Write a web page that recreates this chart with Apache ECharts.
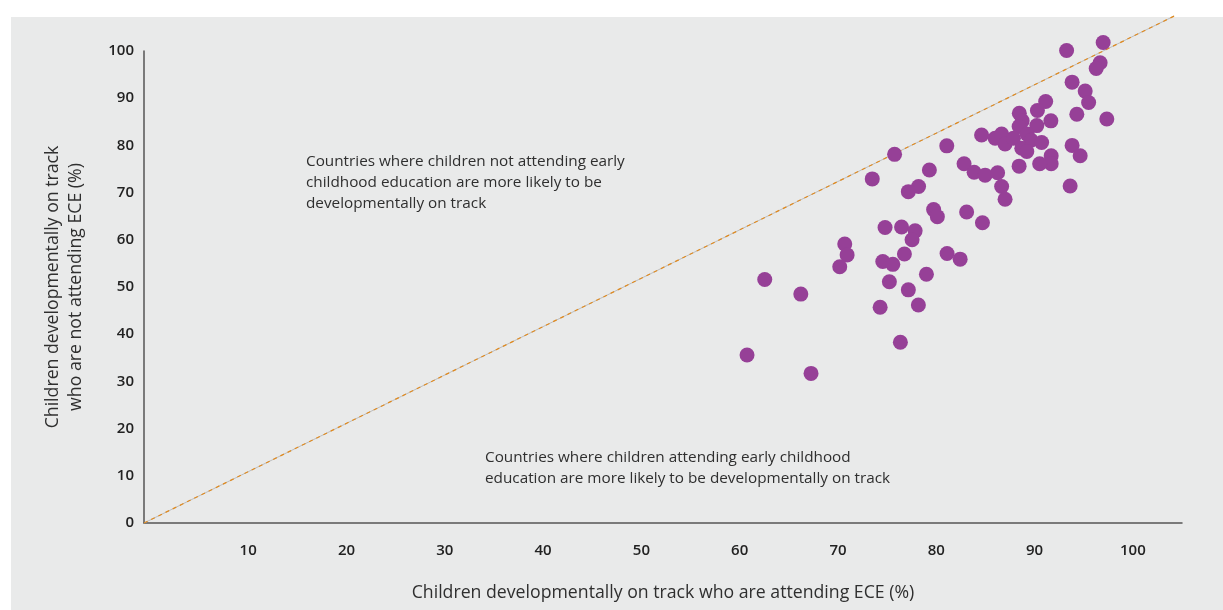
<!DOCTYPE html>
<html>
<head>
<meta charset="utf-8">
<script src="https://cdn.jsdelivr.net/npm/echarts@6/dist/echarts.min.js"></script>
<style>
html,body{margin:0;padding:0;background:#ffffff;}
#chart{width:1223px;height:610px;}
</style>
</head>
<body>
<div id="chart"></div>
<script>
// Children developmentally on track: attending ECE (x) vs not attending ECE (y), %
const attendingECE = [
  96.98, 93.26, 96.67, 96.27, 93.82, 95.15, 95.50, 91.13, 90.29, 88.45,
  91.66, 94.30, 97.35, 90.23, 88.74, 88.43, 84.61, 85.99, 86.65, 87.00,
  87.85, 89.24, 89.65, 88.70, 89.21, 90.72, 93.82, 94.64, 91.69, 91.69,
  90.52, 88.43, 81.07, 75.76, 73.49, 79.30, 82.83, 83.85, 84.97, 86.24,
  86.65, 87.00, 93.62, 78.20, 77.16, 79.73, 80.11, 83.09, 84.70, 74.79,
  76.47, 77.85, 77.54, 70.69, 70.93, 70.18, 76.76, 74.56, 75.58, 81.10,
  82.43, 79.00, 75.23, 77.16, 74.29, 78.18, 76.35, 62.55, 66.22, 60.75,
  67.26
];
const notAttendingECE = [
  101.8, 100.1, 97.5, 96.3, 93.4, 91.5, 89.1, 89.3, 87.4, 86.8,
  85.2, 86.6, 85.6, 84.2, 85.2, 84.0, 82.2, 81.5, 82.4, 80.3,
  81.5, 82.4, 81.1, 79.4, 78.7, 80.6, 80.0, 77.8, 77.8, 76.1,
  76.1, 75.6, 79.9, 78.1, 72.9, 74.8, 76.1, 74.3, 73.7, 74.2,
  71.3, 68.6, 71.4, 71.3, 70.2, 66.4, 64.9, 65.9, 63.6, 62.6,
  62.7, 61.9, 60.0, 59.1, 56.8, 54.3, 57.0, 55.4, 54.8, 57.1,
  55.9, 52.7, 51.1, 49.4, 45.7, 46.2, 38.3, 51.6, 48.5, 35.6,
  31.7
];
// reference line as drawn in the original figure
const parityLineX = [-0.6, 104.2];
const parityLineY = [0, 107.4];
const xTickValues = [10, 20, 30, 40, 50, 60, 70, 80, 90, 100];
const yTickValues = [0, 10, 20, 30, 40, 50, 60, 70, 80, 90, 100];

const xTitle = 'Children developmentally on track who are attending ECE (%)';
const yTitle = 'Children developmentally on track\nwho are not attending ECE (%)';
const noteAbove = 'Countries where children not attending early\nchildhood education are more likely to be\ndevelopmentally on track';
const noteBelow = 'Countries where children attending early childhood\neducation are more likely to be developmentally on track';

const points = attendingECE.map((x, i) => [x, notAttendingECE[i]]);
const linePts = parityLineX.map((x, i) => [x, parityLineY[i]]);

const FONT = '"Open Sans", "Noto Sans", sans-serif';
const chart = echarts.init(document.getElementById('chart'), null, {renderer: 'canvas'});
chart.setOption({
  animation: false,
  backgroundColor: '#ffffff',
  textStyle: {fontFamily: FONT},
  graphic: [
    {type: 'rect', z: -10, silent: true, shape: {x: 11, y: 17, width: 1212, height: 593},
     style: {fill: '#e9eaea'}},
    {type: 'text', left: 306, top: 151, z: 10, silent: true,
     style: {text: noteAbove, font: '15.3px ' + FONT, fill: '#2f2f2f', lineHeight: 21}},
    {type: 'text', left: 485, top: 447, z: 10, silent: true,
     style: {text: noteBelow, font: '15.3px ' + FONT, fill: '#2f2f2f', lineHeight: 21}}
  ],
  grid: {left: 144, right: 41, top: 51, bottom: 87, containLabel: false},
  xAxis: {
    type: 'value', min: -0.6, max: 105,
    splitLine: {show: false},
    axisTick: {show: false},
    axisLine: {show: true, onZero: false, lineStyle: {color: '#555555', width: 1.5}},
    axisLabel: {customValues: xTickValues, margin: 20, fontSize: 15, fontWeight: 600, color: '#222222', fontFamily: FONT},
    name: xTitle, nameLocation: 'middle', nameGap: 61,
    nameTextStyle: {fontSize: 17.7, color: '#2f2f2f', fontFamily: FONT}
  },
  yAxis: {
    type: 'value', min: 0, max: 100, interval: 10,
    splitLine: {show: false},
    axisTick: {show: false},
    axisLine: {show: true, onZero: false, lineStyle: {color: '#555555', width: 1.5}},
    axisLabel: {customValues: yTickValues, margin: 10, fontSize: 15, fontWeight: 600, color: '#222222', fontFamily: FONT},
    name: yTitle, nameLocation: 'middle', nameGap: 57, nameRotate: 90,
    nameTextStyle: {fontSize: 17.7, color: '#2f2f2f', fontFamily: FONT, lineHeight: 23}
  },
  series: [
    {type: 'line', data: linePts, symbol: 'none', clip: false, silent: true, z: 1,
     lineStyle: {color: '#bdbdbd', width: 1}},
    {type: 'line', data: linePts, symbol: 'none', clip: false, silent: true, z: 2,
     lineStyle: {color: '#e08a1f', width: 1.2, type: [4, 4]}},
    {type: 'scatter', data: points, symbol: 'circle', symbolSize: 15, clip: false, z: 5,
     itemStyle: {color: '#964097', opacity: 1}}
  ]
});
</script>
</body>
</html>
